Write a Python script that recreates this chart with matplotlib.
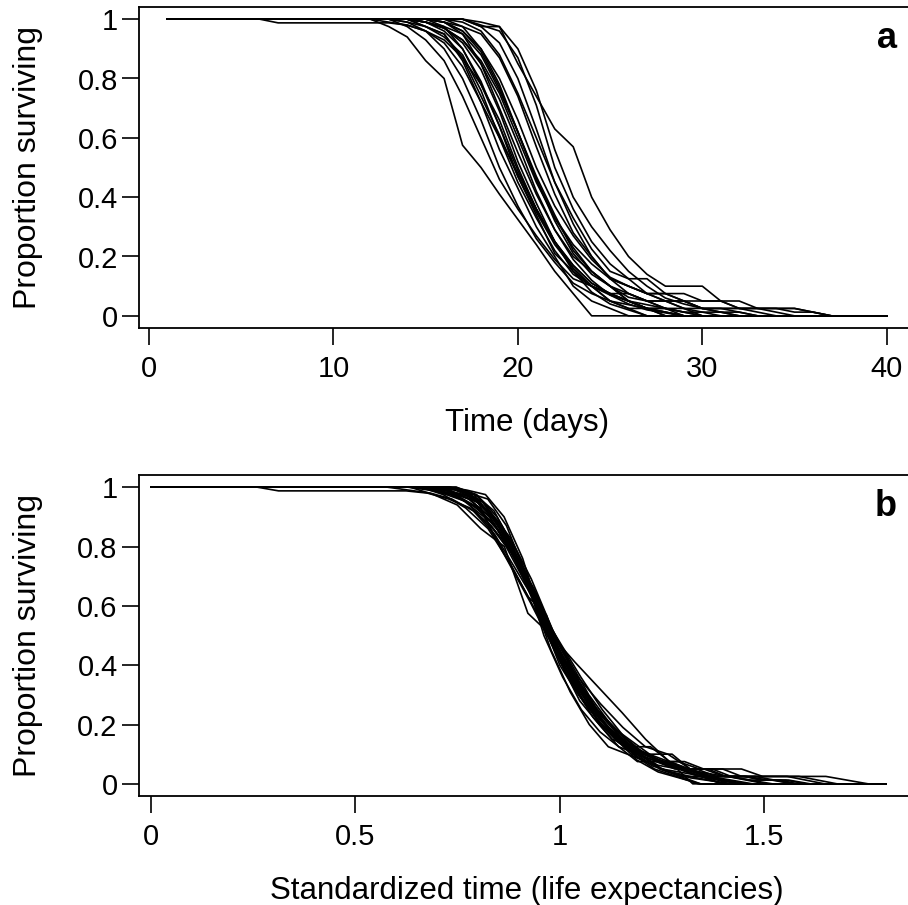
import numpy as np
import matplotlib
matplotlib.use('Agg')
import matplotlib.pyplot as plt
from matplotlib.patches import Rectangle

plt.rcParams['font.family'] = ['Liberation Sans', 'DejaVu Sans']

# day of observation (panel a x axis)
days = np.arange(1, 41)

# proportion surviving per cohort, days 1..40
surv = [
    [1, 1, 1, 1, 1, 1, 1, 1, 1, 1,
     1, 1, 0.975, 0.94, 0.86, 0.80, 0.575, 0.50, 0.41, 0.325, 0.24, 0.15, 0.075, 0,
     0, 0, 0, 0, 0, 0, 0, 0, 0, 0, 0, 0, 0, 0, 0, 0],
    [1, 1, 1, 1, 1, 1, 1, 1, 1, 1,
     1, 1, 1, 0.975, 0.93, 0.86, 0.74, 0.6, 0.46, 0.36, 0.27, 0.19, 0.125, 0.1, 0.05, 0.025,
     0, 0, 0, 0, 0, 0, 0, 0, 0, 0, 0, 0, 0, 0],
    [1, 1, 1, 1, 1, 1, 1, 1, 1, 1,
     1, 1, 1, 0.99, 0.96, 0.9, 0.8, 0.66, 0.5, 0.37, 0.26, 0.18, 0.11, 0.075, 0.05, 0.025,
     0.025, 0.0125, 0, 0, 0, 0, 0, 0, 0, 0, 0, 0, 0, 0],
    [1, 1, 1, 1, 1, 1, 1, 1, 1, 1,
     1, 1, 1, 1, 0.975, 0.95, 0.86, 0.72, 0.56, 0.43, 0.3, 0.2, 0.1, 0.05, 0.025,
     0, 0, 0, 0, 0, 0, 0, 0, 0, 0, 0, 0, 0, 0, 0],
    [1, 1, 1, 1, 1, 1, 1, 1, 1, 1,
     1, 1, 1, 0.99, 0.975, 0.94, 0.88, 0.76, 0.6, 0.45, 0.33, 0.22, 0.14, 0.1, 0.075, 0.05,
     0.025, 0.025, 0.0125, 0.0125, 0, 0, 0, 0, 0, 0, 0, 0, 0, 0],
    [1, 1, 1, 1, 1, 1, 1, 1, 1, 1,
     1, 1, 1, 1, 1, 0.975, 0.9, 0.79, 0.64, 0.47, 0.34, 0.21, 0.15, 0.1, 0.05, 0.0375,
     0.025, 0.0125, 0, 0, 0, 0, 0, 0, 0, 0, 0, 0, 0, 0],
    [1, 1, 1, 1, 1, 1, 1, 1, 1, 1,
     1, 1, 0.99, 0.98, 0.96, 0.92, 0.84, 0.72, 0.6, 0.48, 0.36, 0.25, 0.16, 0.1, 0.07, 0.05,
     0.025, 0.0125, 0, 0, 0, 0, 0, 0, 0, 0, 0, 0, 0, 0],
    [1, 1, 1, 1, 1, 1, 1, 1, 1, 1,
     1, 1, 1, 1, 0.99, 0.97, 0.92, 0.83, 0.69, 0.52, 0.38, 0.25, 0.15, 0.08, 0.04, 0.02,
     0, 0, 0, 0, 0, 0, 0, 0, 0, 0, 0, 0, 0, 0],
    [1, 1, 1, 1, 1, 1, 0.9875, 0.9875, 0.9875, 0.9875,
     0.9875, 0.9875, 0.9875, 0.98, 0.96, 0.93, 0.87, 0.78, 0.66, 0.5, 0.36, 0.25, 0.17, 0.11, 0.075, 0.05,
     0.0375, 0.025, 0.025, 0.0125, 0.0125, 0, 0, 0, 0, 0, 0, 0, 0, 0],
    [1, 1, 1, 1, 1, 1, 1, 1, 1, 1,
     1, 1, 1, 1, 0.99, 0.96, 0.9, 0.78, 0.64, 0.49, 0.36, 0.25, 0.17, 0.11, 0.075, 0.05,
     0.025, 0, 0, 0, 0, 0, 0, 0, 0, 0, 0, 0, 0, 0],
    [1, 1, 1, 1, 1, 1, 1, 1, 1, 1,
     1, 1, 1, 1, 0.99, 0.97, 0.93, 0.85, 0.73, 0.58, 0.42, 0.29, 0.2, 0.15, 0.1, 0.075,
     0.05, 0.05, 0.025, 0.025, 0.0125, 0.0125, 0, 0, 0, 0, 0, 0, 0, 0],
    [1, 1, 1, 1, 1, 1, 1, 1, 1, 1,
     1, 1, 1, 1, 1, 0.99, 0.95, 0.85, 0.7, 0.55, 0.41, 0.29, 0.19, 0.12, 0.07, 0.04,
     0.02, 0.01, 0, 0, 0, 0, 0, 0, 0, 0, 0, 0, 0, 0],
    [1, 1, 1, 1, 1, 1, 1, 1, 1, 1,
     1, 1, 1, 1, 0.99, 0.975, 0.95, 0.88, 0.76, 0.62, 0.47, 0.34, 0.22, 0.15, 0.1, 0.05,
     0.025, 0.025, 0, 0, 0, 0, 0, 0, 0, 0, 0, 0, 0, 0],
    [1, 1, 1, 1, 1, 1, 1, 1, 1, 1,
     1, 1, 1, 1, 1, 0.99, 0.96, 0.89, 0.77, 0.62, 0.46, 0.33, 0.23, 0.15, 0.1, 0.0625,
     0.05, 0.025, 0.0125, 0, 0, 0, 0, 0, 0, 0, 0, 0, 0, 0],
    [1, 1, 1, 1, 1, 1, 1, 1, 1, 1,
     1, 1, 1, 1, 0.99, 0.97, 0.93, 0.86, 0.75, 0.6, 0.45, 0.33, 0.24, 0.175, 0.125, 0.075,
     0.05, 0.025, 0.0125, 0, 0, 0, 0, 0, 0, 0, 0, 0, 0, 0],
    [1, 1, 1, 1, 1, 1, 1, 1, 1, 1,
     1, 1, 1, 1, 1, 1, 0.975, 0.9, 0.78, 0.62, 0.46, 0.32, 0.21, 0.14, 0.1, 0.05,
     0.025, 0, 0, 0, 0, 0, 0, 0, 0, 0, 0, 0, 0, 0],
    [1, 1, 1, 1, 1, 1, 1, 1, 1, 1,
     1, 1, 1, 1, 1, 0.99, 0.975, 0.95, 0.87, 0.74, 0.57, 0.41, 0.28, 0.2, 0.125, 0.1,
     0.075, 0.05, 0.05, 0.025, 0.025, 0.025, 0.0125, 0, 0, 0, 0, 0, 0, 0],
    [1, 1, 1, 1, 1, 1, 1, 1, 1, 1,
     1, 1, 1, 1, 1, 0.99, 0.96, 0.9, 0.8, 0.66, 0.5, 0.37, 0.27, 0.19, 0.13, 0.1,
     0.075, 0.05, 0.025, 0, 0, 0, 0, 0, 0, 0, 0, 0, 0, 0],
    [1, 1, 1, 1, 1, 1, 1, 1, 1, 1,
     1, 1, 1, 1, 1, 1, 1, 0.975, 0.92, 0.8, 0.63, 0.45, 0.31, 0.2, 0.125, 0.1,
     0.075, 0.075, 0.075, 0.05, 0.05, 0.025, 0.025, 0.025, 0.025, 0.0125, 0, 0, 0, 0],
    [1, 1, 1, 1, 1, 1, 1, 1, 1, 1,
     1, 1, 1, 1, 1, 1, 0.99, 0.96, 0.88, 0.75, 0.6, 0.45, 0.33, 0.225, 0.15, 0.125,
     0.125, 0.075, 0.05, 0.025, 0.025, 0.0125, 0, 0, 0, 0, 0, 0, 0, 0],
    [1, 1, 1, 1, 1, 1, 1, 1, 1, 1,
     1, 1, 1, 1, 1, 1, 1, 0.98, 0.96, 0.87, 0.71, 0.5, 0.36, 0.25, 0.175, 0.125,
     0.075, 0.075, 0.05, 0.05, 0.05, 0.025, 0.025, 0.025, 0.025, 0.0125, 0, 0, 0, 0],
    [1, 1, 1, 1, 1, 1, 1, 1, 1, 1,
     1, 1, 1, 1, 1, 1, 1, 0.99, 0.975, 0.9, 0.76, 0.56, 0.4, 0.3, 0.22, 0.15,
     0.1, 0.06, 0.04, 0.025, 0.0125, 0, 0, 0, 0, 0, 0, 0, 0, 0],
    [1, 1, 1, 1, 1, 1, 1, 1, 1, 1,
     1, 1, 1, 1, 1, 1, 1, 0.975, 0.975, 0.85, 0.74, 0.63, 0.57, 0.4, 0.29, 0.2,
     0.14, 0.1, 0.1, 0.1, 0.05, 0.05, 0.025, 0.025, 0.0125, 0.0125, 0, 0, 0, 0],
    [1, 1, 1, 1, 1, 1, 1, 1, 1, 1,
     1, 1, 1, 1, 0.975, 0.95, 0.87, 0.74, 0.61, 0.47, 0.35, 0.24, 0.16, 0.1, 0.075, 0.075,
     0.05, 0.05, 0.05, 0.025, 0.025, 0.025, 0.025, 0.0125, 0, 0, 0, 0, 0, 0],
]

y_ticks = [0, 0.2, 0.4, 0.6, 0.8, 1]
y_labels = ['0', '0.2', '0.4', '0.6', '0.8', '1']
xa_ticks = [0, 10, 20, 30, 40]
xa_labels = ['0', '10', '20', '30', '40']
xb_ticks = [0, 0.5, 1, 1.5]
xb_labels = ['0', '0.5', '1', '1.5']
xb_max = 1.8

W, H = 908, 905
fig = plt.figure(figsize=(W / 100, H / 100), dpi=100)


def box(left, top, right, bottom):
    return fig.add_axes([left / W, 1 - bottom / H, (right - left) / W, (bottom - top) / H])


ax1 = box(138.7, 7.3, 915.5, 327.7)
ax2 = box(138.5, 475.3, 915.5, 795.7)

for s in surv:
    s = np.array(s, dtype=float)
    ax1.plot(days, s, color='black', lw=1.2)
    # standardize time by the cohort's life expectancy
    le = np.trapezoid(s, days - 1)
    ln, = ax2.plot((days - 1) / le, s, color='black', lw=1.2)
    clip = Rectangle((-1, -1), 1 + xb_max, 3, transform=ax2.transData)
    ln.set_clip_path(clip)

ax1.set_xlim(-0.56, 41.56)
ax2.set_xlim(-0.0306, 1.8707)

for ax, xt, xl, lab, letter in [(ax1, xa_ticks, xa_labels, 'Time (days)', 'a'),
                                 (ax2, xb_ticks, xb_labels, 'Standardized time (life expectancies)', 'b')]:
    ax.set_ylim(-0.04, 1.04)
    ax.set_yticks(y_ticks)
    ax.set_yticklabels(y_labels)
    ax.set_xticks(xt)
    ax.set_xticklabels(xl)
    ax.tick_params(direction='out', length=12, width=1.2, labelsize=21, colors='black')
    ax.tick_params(axis='x', pad=8)
    ax.tick_params(axis='y', pad=3)
    for sp in ax.spines.values():
        sp.set_linewidth(1.3)
    ax.set_ylabel('Proportion surviving', fontsize=23)
    ax.yaxis.set_label_coords(-0.123, 0.5)
    ax.set_xlabel(lab, fontsize=22.5, va='top')
    ax.xaxis.set_label_coords(0.5, -0.25)
    ax.text(0.976, 0.872, letter, transform=ax.transAxes, ha='right', va='baseline',
            fontsize=26, fontweight='bold')

plt.savefig('out.png', dpi=100)
